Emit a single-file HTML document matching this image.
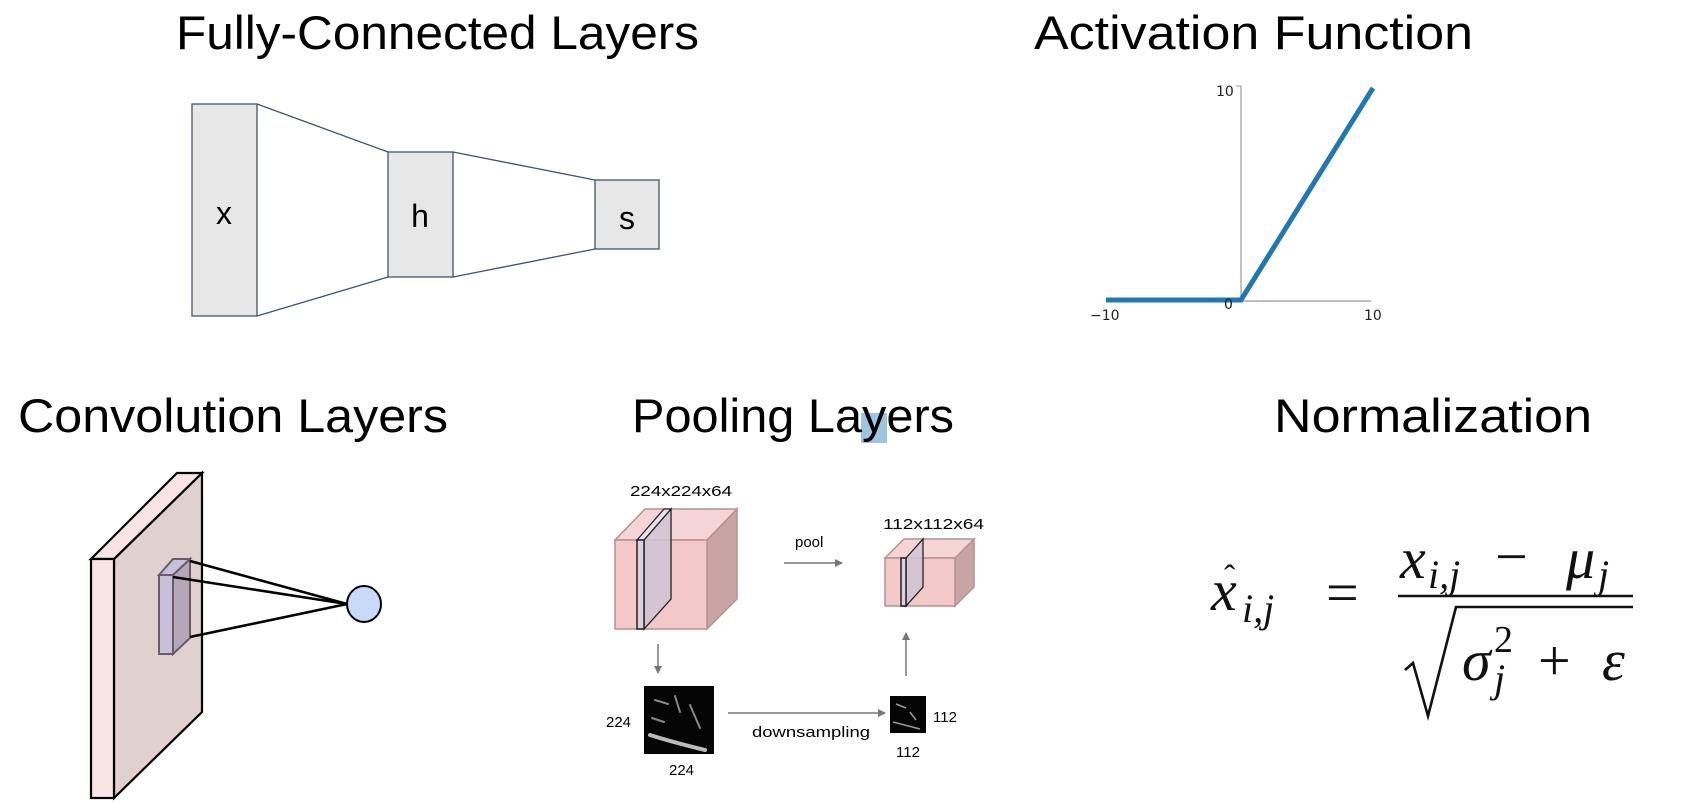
<!DOCTYPE html>
<html><head><meta charset="utf-8"><style>
html,body{margin:0;padding:0;background:#fff;}
svg{display:block;}
.t{font-family:"Liberation Sans",sans-serif;font-size:47px;fill:#000;}
.s{font-family:"Liberation Sans",sans-serif;font-size:15px;fill:#000;}
.m{font-family:"Liberation Serif",serif;font-style:italic;fill:#111;}
.r{font-family:"Liberation Serif",serif;fill:#111;}
</style></head><body>
<svg width="1683" height="802" viewBox="0 0 1683 802" xmlns="http://www.w3.org/2000/svg">
<text class="t" x="176" y="49" textLength="523" lengthAdjust="spacingAndGlyphs">Fully-Connected Layers</text>
<text class="t" x="1034" y="49" textLength="439" lengthAdjust="spacingAndGlyphs">Activation Function</text>
<text class="t" x="18" y="432" textLength="430" lengthAdjust="spacingAndGlyphs">Convolution Layers</text>
<rect x="861" y="413" width="26" height="30" fill="#9ec5e0"/>
<text class="t" x="632" y="432" textLength="322" lengthAdjust="spacingAndGlyphs">Pooling Layers</text>
<text class="t" x="1274" y="432" textLength="318" lengthAdjust="spacingAndGlyphs">Normalization</text>

<g stroke="#44546a" stroke-width="1.3" fill="#e7e7e7">
<line x1="257" y1="104" x2="388" y2="152"/><line x1="257" y1="316" x2="388" y2="277"/>
<line x1="453" y1="152" x2="595" y2="180"/><line x1="453" y1="277" x2="595" y2="249"/>
<rect x="192" y="104" width="65" height="212"/>
<rect x="388" y="152" width="65" height="125"/>
<rect x="595" y="180" width="64" height="69"/>
</g>
<g font-family="Liberation Sans,sans-serif" font-size="32" text-anchor="middle">
<text x="224" y="224">x</text><text x="420" y="227">h</text><text x="627" y="229">s</text>
</g>

<line x1="1241" y1="86" x2="1241" y2="301" stroke="#999" stroke-width="1.2"/>
<line x1="1106" y1="301" x2="1371" y2="301" stroke="#999" stroke-width="1.2"/>
<line x1="1236" y1="86" x2="1241" y2="86" stroke="#999"/>
<polyline points="1106,300 1241,300 1373,88" fill="none" stroke="#1f77b4" stroke-width="5"/>
<g font-family="DejaVu Sans,sans-serif" font-size="14" fill="#222">
<text x="1216" y="96">10</text><text x="1224" y="309">0</text>
<text x="1090" y="320">−10</text><text x="1364" y="320">10</text>
</g>

<g stroke="#000" stroke-width="2.2">
<polygon points="114,559 202,473 202,712 114,798" fill="#e0d0d0"/>
<polygon points="91,559 177,473 202,473 114,559" fill="#f8e4e4"/>
<rect x="91" y="559" width="23" height="239" fill="#f8e4e4"/>
</g>
<g stroke="#6a5a6a" stroke-width="2">
<polygon points="173,575 190,559 190,638 173,654" fill="#b4a8b8"/>
<polygon points="159,575 173,559 190,559 173,575" fill="#c8c0d8"/>
<rect x="159" y="575" width="14" height="79" fill="#c8c0d8"/>
</g>
<g stroke="#000" stroke-width="2.5">
<line x1="190" y1="561" x2="347" y2="604"/><line x1="173" y1="577" x2="347" y2="604"/><line x1="190" y1="637" x2="347" y2="604"/>
</g>
<ellipse cx="364" cy="604" rx="17" ry="18" fill="#c9daf8" stroke="#000" stroke-width="2"/>

<g stroke="#b89090" stroke-width="1.5">
<polygon points="707,540 737,509 737,599 707,629" fill="#c9a4a4"/>
<polygon points="615,540 645,509 737,509 707,540" fill="#f4d4d4"/>
<rect x="615" y="540" width="92" height="89" fill="#f2c8c8"/>
</g>
<polygon points="644,540 671,509 671,599 644,629" fill="#d0c4d4" fill-opacity="0.85" stroke="#222" stroke-width="1.3"/>
<polygon points="637,540 664,509 671,509 644,540" fill="#e8e0ec" stroke="#222" stroke-width="1.3"/>
<rect x="637" y="540" width="7" height="89" fill="#ddd0e0" stroke="#222" stroke-width="1.5"/>
<text class="s" x="630" y="496" textLength="102" lengthAdjust="spacingAndGlyphs">224x224x64</text>

<g stroke="#b89090" stroke-width="1.5">
<polygon points="955,558 974,539 974,587 955,606" fill="#c9a4a4"/>
<polygon points="885,558 904,539 974,539 955,558" fill="#f4d4d4"/>
<rect x="885" y="558" width="70" height="48" fill="#f2c8c8"/>
</g>
<polygon points="906,558 923,539 923,587 906,606" fill="#d0c4d4" fill-opacity="0.85" stroke="#222" stroke-width="1.3"/>
<rect x="901" y="558" width="5" height="48" fill="#ddd0e0" stroke="#222" stroke-width="1.5"/>
<text class="s" x="883" y="529" textLength="101" lengthAdjust="spacingAndGlyphs">112x112x64</text>

<defs><marker id="a" markerWidth="8" markerHeight="8" refX="7" refY="4" orient="auto" markerUnits="userSpaceOnUse"><path d="M0,0 L8,4 L0,8 z" fill="#777"/></marker></defs>
<g stroke="#777" stroke-width="1.5" marker-end="url(#a)">
<line x1="784" y1="563" x2="842" y2="563"/>
<line x1="658" y1="644" x2="658" y2="673"/>
<line x1="906" y1="676" x2="906" y2="633"/>
<line x1="728" y1="713" x2="885" y2="713"/>
</g>
<text class="s" x="795" y="547">pool</text>
<text class="s" x="752" y="737" textLength="118" lengthAdjust="spacingAndGlyphs">downsampling</text>

<rect x="644" y="686" width="70" height="68" fill="#050505"/>
<g stroke="#bbb" fill="none" stroke-linecap="round">
<path d="M650,735 Q672,742 705,750" stroke-width="4"/>
<path d="M655,700 L668,704 M675,696 L680,712 M690,705 L700,728 M652,718 L664,722" stroke-width="2" stroke="#888"/>
</g>
<rect x="890" y="696" width="36" height="37" fill="#050505"/>
<g stroke="#999" fill="none"><path d="M893,722 L920,729 M896,704 L906,708 M910,712 L916,720" stroke-width="1.5"/></g>
<text class="s" x="606" y="727">224</text>
<text class="s" x="669" y="775">224</text>
<text class="s" x="933" y="722">112</text>
<text class="s" x="896" y="757">112</text>

<text class="m" x="1211" y="610" font-size="58">x</text>
<text class="r" x="1224" y="588" font-size="34">ˆ</text>
<text class="m" x="1242" y="622" font-size="40">i,j</text>
<text class="r" x="1326" y="612" font-size="58">=</text>
<line x1="1398" y1="596" x2="1633" y2="596" stroke="#111" stroke-width="2.6"/>
<text class="m" x="1400" y="578" font-size="58">x</text>
<text class="m" x="1428" y="588" font-size="40">i,j</text>
<text class="r" x="1495" y="576" font-size="58">−</text>
<text class="m" x="1566" y="578" font-size="58">μ</text>
<text class="m" x="1598" y="588" font-size="40">j</text>
<polyline points="1405,670 1413,663 1428,716 1456,607 1633,607" fill="none" stroke="#111" stroke-width="2.6"/>
<text class="m" x="1462" y="680" font-size="58">σ</text>
<text class="r" x="1494" y="652" font-size="38">2</text>
<text class="m" x="1494" y="692" font-size="40">j</text>
<text class="r" x="1538" y="680" font-size="58">+</text>
<text class="m" x="1602" y="680" font-size="58">ε</text>
</svg>
</body></html>
